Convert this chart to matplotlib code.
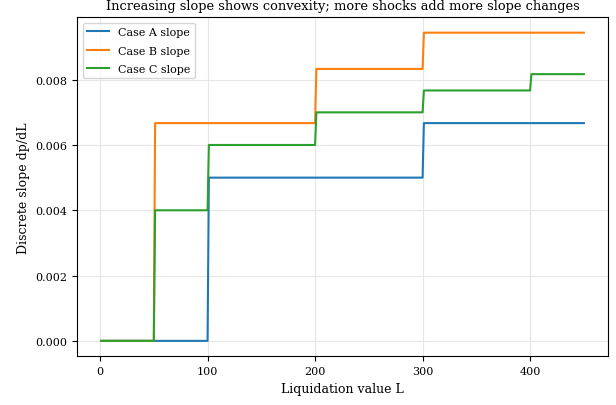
import numpy as np
import matplotlib
matplotlib.use("Agg")
import matplotlib.pyplot as plt

# slope levels between breakpoints (discrete dp/dL)
L_start, L_end = 1.0, 450.0
ramp = 1.2

breaks_A = [100, 300]
slopes_A = [0.0, 0.005, 0.00667]

breaks_B = [50, 200, 300]
slopes_B = [0.0, 0.00667, 0.00833, 0.00944]

breaks_C = [50, 100, 200, 300, 400]
slopes_C = [0.0, 0.004, 0.006, 0.007, 0.00767, 0.00817]


def step_curve(breaks, slopes):
    xs = [L_start]
    ys = [slopes[0]]
    for b, lo, hi in zip(breaks, slopes[:-1], slopes[1:]):
        xs += [b, b + ramp]
        ys += [lo, hi]
    xs.append(L_end)
    ys.append(slopes[-1])
    return np.array(xs), np.array(ys)


plt.rcParams["font.family"] = "DejaVu Serif"
fig, ax = plt.subplots(figsize=(6.16, 4.06), dpi=100)

for name, br, sl, col in [("Case A slope", breaks_A, slopes_A, "tab:blue"),
                          ("Case B slope", breaks_B, slopes_B, "tab:orange"),
                          ("Case C slope", breaks_C, slopes_C, "tab:green")]:
    x, y = step_curve(br, sl)
    ax.plot(x, y, color=col, linewidth=1.5, label=name)

ax.set_title("Increasing slope shows convexity; more shocks add more slope changes",
             fontsize=9.4)
ax.set_xlabel("Liquidation value L", fontsize=9)
ax.set_ylabel("Discrete slope dp/dL", fontsize=9)
ax.tick_params(labelsize=8)
ax.set_yticks([0, 0.002, 0.004, 0.006, 0.008])
ax.grid(True, color="#e6e6e6", linewidth=0.8)
ax.legend(fontsize=8, loc="upper left", labelspacing=0.75)

fig.subplots_adjust(left=0.125, right=0.987, top=0.955, bottom=0.12)
fig.savefig("out.png", dpi=100)
